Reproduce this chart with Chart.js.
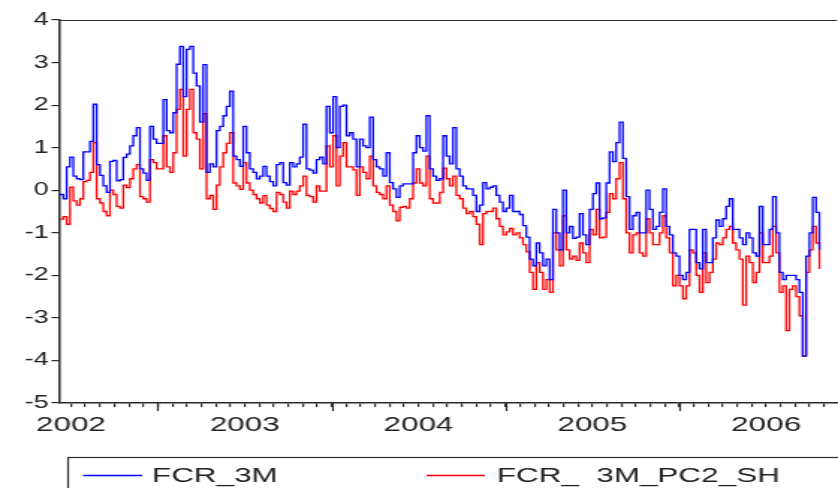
<!DOCTYPE html>
<html>
<head>
<meta charset="utf-8">
<script src="https://cdn.jsdelivr.net/npm/chart.js@4.4.1/dist/chart.umd.min.js"></script>
<style>
  html, body { margin: 0; padding: 0; background: #fff; overflow: hidden; }
  /* the original graph is stretched sideways, so draw narrow and widen it */
  #wrap { width: 560px; height: 488px; transform: scaleX(1.4964); transform-origin: 0 0; }
</style>
</head>
<body>
<div id="wrap"><canvas id="chart"></canvas></div>
<script>
// weekly observations, first one in early June 2002
const firstWeek = 2002.437;
const weekStep = 7 / 365.25;

const fcr3m = [
  -0.1, -0.2, 0.55, 0.78, 0.33, 0.27, 0.25, 0.9, 0.9, 1.15, 2.02, 0.6, 0.35, 0.1, -0.05, 0.68, 0.7, 0.22, 0.25, 0.77,
  0.85, 1.04, 1.28, 1.47, 0.5, 0.4, 0.23, 1.5, 1.2, 1.1, 1.1, 2.13, 1.4, 1.35, 1.82, 2.96, 3.38, 2.2, 3.31, 3.38,
  2.75, 2.45, 1.6, 2.95, 0.42, 0.62, 0.55, 1.4, 1.5, 1.75, 1.97, 2.33, 0.8, 0.72, 0.56, 1.5, 0.88, 0.5, 0.42, 0.27,
  0.33, 0.56, 0.33, 0.2, 0.1, 0.6,
  0.65, 0.18, 0.12, 0.65, 0.55, 0.62, 0.78, 1.55, 0.5, 0.47, 0.4, 0.72, 0.78, 0.62, 1.97, 1.35, 2.2, 1.0, 1.97, 2.0,
  1.28, 1.35, 1.2, 0.55, 1.2, 1.04, 1.0, 1.72, 0.72, 0.55, 0.5, 0.33, 0.88, 0.18, 0.03, -0.17, 0.1, 0.15, 0.15, 0.15,
  0.88, 1.28, 1.0, 0.92, 1.75, 0.5, 0.33, 0.23, 0.27, 1.28, 0.8, 0.62, 1.47, 0.5, 0.33, 0.1, 0.03, 0.03, -0.12, -0.5,
  -0.35, 0.18, 0.03, 0.07, 0.1, -0.12, -0.28, -0.5, -0.42, -0.12, -0.5, -0.5, -0.57, -0.83, -1.1, -1.62, -1.78, -1.24, -1.47,
  -1.78, -1.62, -2.1, -0.45, -1.0, -1.4, 0.0, -1.0, -0.85, -1.13, -1.1, -0.55, -1.05, -1.28, -0.45, -0.08, 0.17, -0.67, -0.65, 0.17,
  0.9, 0.67, 1.12, 1.6, 0.75, -0.15, -0.92, -0.6, -0.52, -1.0, -1.0, 0.0, -0.45, -0.92, -0.85, -0.52, 0.03, -0.85, -1.05, -1.47,
  -1.55, -2.0, -2.1, -1.93, -0.92, -0.92, -1.7, -1.85, -0.92, -1.7, -1.7, -1.12, -0.7, -0.85, -0.67, -0.38, -0.2, -0.92, -0.92, -1.12,
  -1.28, -1.0, -1.12, -1.47, -1.55, -0.38, -1.28, -1.28, -0.92, -0.15, -1.0, -1.93, -2.1, -2.0, -2.0, -2.0, -2.1, -2.4, -3.9, -1.55,
  -1.0, -0.17, -0.52, -1.4
];

const fcr3mPc2 = [
  -0.68, -0.62, -0.8, 0.07, -0.25, -0.35, -0.2, 0.2, 0.23, 0.42, 1.12, -0.2, -0.3, -0.5, -0.6, 0.0, -0.1, -0.38, -0.42, 0.12,
  0.06, 0.27, 0.5, 0.6, -0.15, -0.2, -0.28, 0.72, 0.65, 0.5, 0.5, 1.28, 0.55, 0.42, 0.88, 1.9, 2.37, 0.8, 1.9, 2.37,
  1.35, 1.2, 0.5, 1.8, -0.2, -0.12, -0.45, 0.12, 0.55, 0.88, 1.1, 1.35, 0.17, 0.1, 0.02, 0.65, 0.17, 0.0, -0.1, -0.2,
  -0.3, -0.13, -0.35, -0.43, -0.5, -0.05,
  -0.1, -0.28, -0.42, -0.02, -0.1, -0.02, 0.1, 0.33, -0.12, -0.15, -0.28, 0.1, -0.02, -0.02, 1.04, 0.55, 1.28, 0.1, 0.8, 1.12,
  0.55, 0.55, 0.48, -0.12, 0.55, 0.42, 0.27, 0.8, 0.1, -0.05, -0.1, -0.2, 0.1, -0.35, -0.5, -0.72, -0.4, -0.38, -0.42, -0.2,
  0.17, 0.5, 0.17, 0.1, 0.8, -0.2, -0.3, -0.3, -0.05, 0.52, 0.27, 0.1, 0.33, -0.12, -0.2, -0.42, -0.55, -0.5, -0.62, -0.8,
  -1.28, -0.55, -0.5, -0.5, -0.42, -0.67, -0.85, -1.05, -0.98, -0.9, -1.05, -1.0, -1.12, -1.28, -1.45, -1.93, -2.33, -1.7, -1.93,
  -2.33, -2.1, -2.4, -1.0, -1.4, -1.78, -0.6, -1.4, -1.62, -1.55, -1.65, -1.24, -1.47, -1.7, -0.92, -1.05, -0.45, -1.12, -1.1, -0.52,
  -0.08, -0.2, 0.27, 0.65, -0.2, -1.0, -1.47, -1.05, -1.0, -1.47, -1.55, -0.67, -1.0, -1.28, -1.28, -1.0, -0.6, -1.12, -1.47, -2.25,
  -2.0, -2.25, -2.55, -2.25, -1.4, -1.47, -2.0, -2.4, -1.47, -2.17, -1.93, -1.62, -1.24, -1.28, -1.12, -0.92, -0.85, -1.24, -1.4, -1.62,
  -2.7, -1.55, -1.7, -2.17, -1.93, -1.0, -1.7, -1.7, -1.55, -0.85, -1.47, -2.4, -2.25, -3.3, -2.33, -2.25, -2.5, -2.95, -3.9, -1.93,
  -1.4, -0.85, -1.24, -1.85
];

const seriesLabels = ["FCR_3M", "FCR_  3M_PC2_SH"];
const seriesColors = ["#0000ff", "#ff0000"];
const yearLabels = [2002, 2003, 2004, 2005, 2006];

const font = "'Liberation Sans', Arial, sans-serif";
const axisColor = "#2a2a2a";
const textColor = "#222";

function toPoints(values) {
  return values.map((v, i) => ({ x: firstWeek + i * weekStep, y: v }));
}

// monthly tick marks, labels at mid year
function monthTicks(scale) {
  const ticks = [];
  yearLabels.forEach((yr) => {
    for (let m = 0; m < 12; m++) {
      const v = yr + m / 12;
      if (v >= scale.min && v <= scale.max) ticks.push({ value: v });
    }
  });
  scale.ticks = ticks;
}

const framePlugin = {
  id: "frame",
  afterDraw(chart) {
    const { ctx, chartArea: a } = chart;
    const x = chart.scales.x;
    ctx.save();
    ctx.strokeStyle = axisColor;
    ctx.lineWidth = 1.2;
    ctx.beginPath();
    ctx.moveTo(a.left, a.top + 0.5);
    ctx.lineTo(a.right, a.top + 0.5);
    // longer marks at the start of each year
    yearLabels.forEach((yr) => {
      const px = Math.round(x.getPixelForValue(yr)) + 0.5;
      if (px > a.left && px < a.right) {
        ctx.moveTo(px, a.bottom);
        ctx.lineTo(px, a.bottom + 8);
      }
    });
    ctx.stroke();

    // legend box at the bottom
    ctx.strokeRect(45.5, 457.5, 530, 40);
    const items = [
      { x0: 55.5, x1: 95, tx: 101.6 },
      { x0: 285, x1: 324, tx: 332 },
    ];
    ctx.font = "21px " + font;
    ctx.textBaseline = "middle";
    chart.data.datasets.forEach((ds, i) => {
      const it = items[i];
      ctx.strokeStyle = seriesColors[i];
      ctx.lineWidth = 1.5;
      ctx.beginPath();
      ctx.moveTo(it.x0, 475.5);
      ctx.lineTo(it.x1, 475.5);
      ctx.stroke();
      ctx.fillStyle = textColor;
      ctx.fillText(ds.label, it.tx, 476);
    });
    ctx.restore();
  },
};

new Chart(document.getElementById("chart"), {
  type: "line",
  data: {
    datasets: [
      {
        label: seriesLabels[0],
        data: toPoints(fcr3m),
        borderColor: seriesColors[0],
        borderWidth: 1.3,
        pointRadius: 0,
        stepped: true,
      },
      {
        label: seriesLabels[1],
        data: toPoints(fcr3mPc2),
        borderColor: seriesColors[1],
        borderWidth: 1.3,
        pointRadius: 0,
        stepped: true,
      },
    ],
  },
  options: {
    responsive: true,
    maintainAspectRatio: false,
    animation: false,
    layout: { padding: { top: 20, left: 0, right: 0, bottom: 0 } },
    plugins: {
      legend: { display: false },
      tooltip: { enabled: false },
    },
    scales: {
      x: {
        type: "linear",
        min: 2002.431,
        max: 2006.908,
        afterBuildTicks: monthTicks,
        afterFit(scale) {
          scale.height = 85;
        },
        ticks: {
          autoSkip: false,
          maxRotation: 0,
          padding: 6,
          color: textColor,
          font: { family: font, size: 21 },
          callback(value) {
            const yr = Math.floor(value + 1e-6);
            return Math.round((value - yr) * 12) === 6 ? String(yr) : "";
          },
        },
        grid: { drawOnChartArea: false, tickLength: 4, color: axisColor, lineWidth: 1.2 },
        border: { color: axisColor, width: 1.5 },
      },
      y: {
        min: -5,
        max: 4,
        afterFit(scale) {
          scale.width = 39.4;
        },
        ticks: {
          stepSize: 1,
          padding: 2,
          color: textColor,
          font: { family: font, size: 18 },
        },
        grid: { drawOnChartArea: false, tickLength: 5, color: axisColor, lineWidth: 1.2 },
        border: { color: axisColor, width: 1.5 },
      },
    },
  },
  plugins: [framePlugin],
});
</script>
</body>
</html>
